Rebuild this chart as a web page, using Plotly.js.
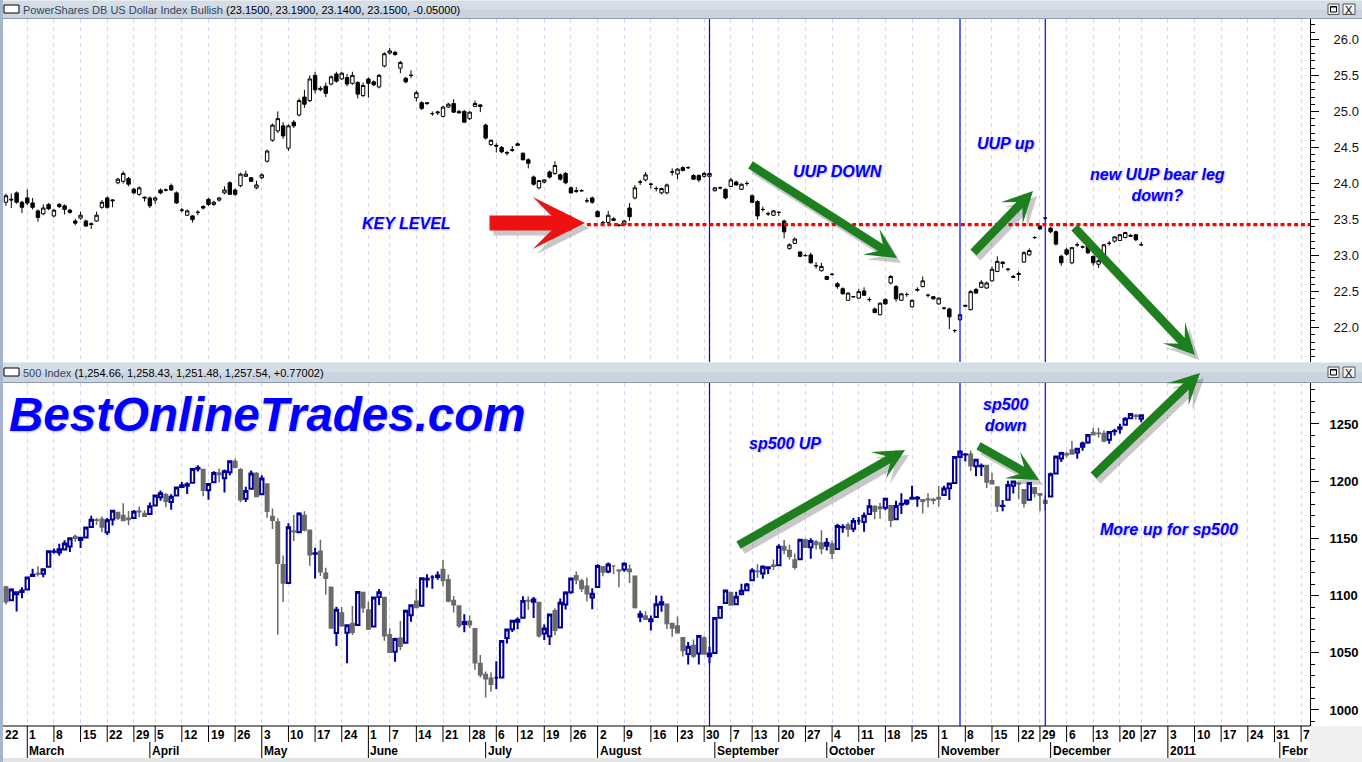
<!DOCTYPE html>
<html><head><meta charset="utf-8">
<script src="https://cdn.plot.ly/plotly-3.0.1.min.js"></script>
<style>html,body{margin:0;padding:0;background:#fff;overflow:hidden}#chart{width:1362px;height:762px}</style>
</head><body><div id="chart"></div>
<script>
// ---------- calendar ----------
const holidays2010 = ['2010-04-02','2010-05-31','2010-07-05','2010-09-06','2010-11-25','2010-12-24'];
const firstDay = '2010-02-22', lastDay = '2010-12-27';
function tradingDays(start, end, skip){
  const out=[]; let d=new Date(start+'T00:00:00Z'); const e=new Date(end+'T00:00:00Z');
  while(d<=e){const wd=d.getUTCDay(); const s=d.toISOString().slice(0,10);
    if(wd!==0&&wd!==6&&skip.indexOf(s)<0) out.push(s); d=new Date(d.getTime()+86400000);}
  return out;
}
const dates = tradingDays(firstDay, lastDay, holidays2010);

// ---------- UUP (top panel) ----------
const uupOpen = [
23.78,23.74,23.77,23.87,23.74, 23.80,23.73,23.62,23.58,23.71, 23.55,23.71,23.69,23.63,23.48, 23.52,23.48,23.43,23.48,23.67,
23.80,23.76,24.01,24.03,24.07, 23.92,23.85,23.81,23.80, 23.77,23.91,23.91,23.97,23.87, 23.63,23.56,23.55,23.60,23.68,
23.78,23.71,23.77,23.87,24.01, 23.91,23.97,24.10,24.08,23.94, 24.08,24.31,24.60,24.73,24.80, 24.49,24.85,24.95,25.20,25.15,
25.50,25.30,25.35,25.38,25.52, 25.45,25.47,25.39,25.40,25.22, 25.45,25.41,25.34,25.63, 25.81,25.82,25.60,25.46,25.50,
25.19,25.12,25.12,24.97,24.98, 24.93,25.06,25.11,25.00,25.00, 24.90,25.07,25.09,24.81,24.54, 24.53,24.50,24.42,24.47,
24.55,24.42,24.33,24.09,23.94, 24.02,24.16,24.14,24.12,24.14, 23.94,23.89,23.90,23.76,23.80, 23.61,23.46,23.46,23.51,23.42,
23.43,23.66,23.80,24.02,24.05, 23.99,23.93,23.87,23.87,24.16, 24.13,24.22,24.22,24.11,24.11, 24.10,24.10,23.90,23.94,23.92,
23.96,24.02,23.92,24.00, 23.83,23.75,23.64,23.58,23.56, 23.60,23.48,23.10,23.17,23.05, 23.00,23.01,22.86,22.79,22.71,
22.74,22.61,22.54,22.38,22.43, 22.41,22.51,22.39,22.26,22.18, 22.39,22.62,22.57,22.38,22.46, 22.29,22.52,22.57,22.45,22.43,
22.33,22.27,22.26,21.96,22.11, 22.31,22.25,22.53,22.56,22.55, 22.65,22.78,22.91,22.81,22.71, 22.75,22.91,23.01,23.25,
23.41,23.52,23.38,23.33,22.99, 23.08,22.90,23.15,23.12,23.13, 22.99,22.88,22.97,23.17,23.20, 23.21,23.25,23.28,23.29, 23.15];
const uupHigh = [
23.84,23.86,23.86,23.89,23.76, 23.92,23.80,23.64,23.71,23.73, 23.65,23.73,23.71,23.65,23.51, 23.61,23.50,23.46,23.61,23.77,
23.82,23.78,24.08,24.17,24.09, 23.94,23.96,23.82,23.82, 23.82,23.93,23.93,24.00,23.89, 23.66,23.64,23.56,23.63,23.70,
23.80,23.76,23.81,23.96,24.03, 23.93,24.15,24.18,24.09,24.04, 24.14,24.47,24.83,25.00,24.85, 24.82,24.88,25.18,25.30,25.50,
25.55,25.35,25.40,25.50,25.55, 25.55,25.52,25.55,25.42,25.40, 25.47,25.43,25.52,25.82, 25.88,25.84,25.70,25.48,25.57,
25.29,25.14,25.13,25.00,25.01, 25.08,25.12,25.17,25.02,25.02, 25.00,25.15,25.10,24.83,24.61, 24.56,24.52,24.45,24.52,
24.57,24.43,24.35,24.11,24.05, 24.06,24.18,24.31,24.14,24.16, 23.96,23.95,23.92,23.80,23.82, 23.63,23.48,23.62,23.53,23.44,
23.49,23.73,23.98,24.05,24.16, 24.01,23.96,23.94,24.00,24.21, 24.21,24.24,24.24,24.13,24.13, 24.16,24.15,23.95,23.96,23.93,
24.08,24.04,24.00,24.03, 23.85,23.77,23.68,23.61,23.63, 23.61,23.50,23.17,23.25,23.06, 23.02,23.04,22.91,22.90,22.72,
22.76,22.63,22.56,22.49,22.44, 22.54,22.56,22.42,22.28,22.35, 22.41,22.73,22.59,22.48,22.49, 22.39,22.56,22.71,22.47,22.44,
22.42,22.29,22.28,21.98,22.19, 22.32,22.52,22.55,22.66,22.64, 22.85,22.99,22.92,22.83,22.73, 22.78,23.06,23.10,23.27,
23.42,23.54,23.40,23.35,23.01, 23.11,23.12,23.18,23.14,23.15, 23.00,22.95,23.16,23.20,23.27, 23.30,23.33,23.30,23.30, 23.19];
const uupLow = [
23.72,23.69,23.66,23.72,23.59, 23.70,23.64,23.47,23.56,23.63, 23.53,23.66,23.57,23.58,23.42, 23.50,23.40,23.37,23.47,23.65,
23.65,23.67,23.99,24.00,23.96, 23.85,23.83,23.75,23.66, 23.72,23.85,23.89,23.90,23.72, 23.60,23.55,23.46,23.56,23.64,
23.69,23.69,23.75,23.85,23.84, 23.83,23.95,24.09,24.02,23.92, 24.06,24.29,24.58,24.70,24.62, 24.45,24.77,24.93,25.05,25.13,
25.25,25.28,25.20,25.36,25.40, 25.44,25.35,25.37,25.18,25.20, 25.19,25.35,25.32,25.61, 25.79,25.77,25.53,25.39,25.46,
25.14,25.02,25.09,24.94,24.95, 24.92,25.05,24.98,24.97,24.84, 24.88,25.06,24.99,24.61,24.52, 24.43,24.42,24.39,24.44,
24.52,24.32,24.21,23.97,23.92, 24.00,24.07,24.12,24.04,23.99, 23.86,23.87,23.89,23.73,23.72, 23.53,23.42,23.44,23.48,23.40,
23.42,23.48,23.78,23.98,24.03, 23.93,23.89,23.85,23.85,24.11, 24.06,24.17,24.20,24.05,24.02, 24.08,24.08,23.89,23.92,23.78,
23.95,23.97,23.91,23.97, 23.73,23.50,23.61,23.55,23.55, 23.55,23.24,23.08,23.16,22.98, 22.99,22.89,22.82,22.78,22.66,
22.72,22.54,22.46,22.37,22.42, 22.40,22.44,22.36,22.20,22.17, 22.32,22.60,22.36,22.37,22.43, 22.28,22.50,22.56,22.42,22.39,
22.32,22.25,21.98,21.93,22.10, 22.29,22.24,22.47,22.55,22.54, 22.64,22.77,22.83,22.78,22.69, 22.65,22.90,23.00,23.23,
23.36,23.48,23.31,23.14,22.86, 23.00,22.88,23.12,23.10,23.02, 22.86,22.83,22.96,23.14,23.18, 23.20,23.24,23.26,23.20, 23.14];
const uupClose = [
23.76,23.83,23.78,23.74,23.67, 23.73,23.67,23.53,23.66,23.65, 23.63,23.68,23.64,23.60,23.45, 23.56,23.41,23.44,23.56,23.74,
23.67,23.77,24.06,24.14,23.99, 23.87,23.94,23.80,23.69, 23.80,23.87,23.91,23.91,23.73, 23.63,23.62,23.50,23.60,23.66,
23.71,23.74,23.80,23.91,23.85, 23.85,24.13,24.13,24.03,23.98, 24.12,24.45,24.81,24.90,24.66, 24.80,24.80,25.15,25.10,25.45,
25.30,25.32,25.25,25.48,25.42, 25.53,25.38,25.50,25.24,25.36, 25.39,25.37,25.50,25.80, 25.84,25.79,25.68,25.41,25.50,
25.26,25.04,25.11,24.97,24.99, 25.06,25.10,24.99,24.98,24.85, 24.99,25.11,25.07,24.63,24.60, 24.52,24.44,24.43,24.46,
24.53,24.33,24.28,23.99,24.04, 24.05,24.09,24.25,24.06,24.01, 23.87,23.90,23.90,23.76,23.74, 23.54,23.46,23.56,23.49,23.42,
23.48,23.54,23.94,24.02,24.12, 23.99,23.93,23.93,23.98,24.16, 24.20,24.18,24.22,24.06,24.05, 24.14,24.14,23.94,23.94,23.80,
24.05,23.98,23.99,24.00, 23.74,23.55,23.64,23.58,23.62, 23.60,23.33,23.15,23.23,22.99, 23.00,22.90,22.86,22.85,22.67,
22.74,22.57,22.47,22.48,22.43, 22.50,22.45,22.39,22.21,22.34, 22.33,22.71,22.40,22.47,22.46, 22.38,22.53,22.65,22.45,22.40,
22.41,22.27,22.15,21.96,22.18, 22.30,22.50,22.48,22.63,22.62, 22.81,22.92,22.89,22.81,22.70, 22.74,23.04,23.07,23.25,
23.37,23.52,23.33,23.16,22.90, 23.02,23.11,23.15,23.12,23.04, 22.90,22.93,23.15,23.17,23.26, 23.29,23.32,23.27,23.22, 23.15];

// ---------- S&P 500 (bottom panel) ----------
const spxOpen = [
1110.0,1107.5,1095.9,1101.2,1103.1, 1105.4,1117.0,1119.4,1119.1,1125.1, 1138.4,1137.6,1140.2,1143.0,1151.7, 1148.5,1150.8,1159.9,1166.1,1166.7,
1155.4,1166.5,1172.7,1170.0,1167.6, 1167.7,1173.8,1171.8,1171.2, 1178.7,1186.0,1188.2,1181.8,1187.5, 1194.9,1195.9,1198.7,1210.8,1210.2,
1192.1,1199.0,1207.2,1202.5,1207.9, 1217.1,1209.9,1184.6,1193.3,1206.8, 1188.6,1197.5,1169.2,1164.4,1127.0, 1111.0,1156.4,1155.4,1170.0,1157.2,
1136.5,1138.8,1119.6,1107.3,1067.3, 1084.8,1067.4,1075.5,1074.3,1102.6, 1087.3,1073.0,1098.8,1098.4, 1065.8,1050.8,1062.8,1058.8,1082.7,
1095.0,1091.2,1114.0,1116.0,1116.2, 1122.8,1113.9,1095.6,1090.9,1075.1, 1077.5,1071.1,1040.6,1031.1,1027.7, 1028.1,1028.5,1062.9,1070.5,
1077.2,1080.7,1095.6,1094.5,1093.9, 1066.8,1064.5,1086.7,1072.1,1092.2, 1102.9,1117.4,1112.8,1108.1,1098.4, 1107.5,1125.3,1121.1,1125.8,1122.1,
1122.8,1122.9,1116.9,1081.5,1082.2, 1077.5,1081.2,1092.1,1092.4,1075.6, 1073.4,1063.2,1049.0,1056.3,1049.3, 1062.9,1046.9,1049.7,1080.7,1093.6,
1102.6,1092.4,1101.2,1104.6, 1113.4,1121.2,1119.4,1123.9,1126.4, 1126.6,1142.8,1139.5,1131.1,1131.7, 1148.6,1142.3,1146.8,1146.0,1143.5,
1145.0,1140.7,1159.8,1161.6,1158.4, 1165.3,1164.3,1171.3,1177.8,1177.5, 1176.8,1178.6,1166.7,1179.6,1180.5, 1184.7,1184.9,1183.8,1184.5,1183.9,
1185.7,1187.9,1193.8,1198.3,1221.2, 1223.2,1223.6,1213.1,1213.0,1213.6, 1200.4,1194.8,1178.3,1183.8,1196.1, 1198.1,1192.5,1183.7,1194.2,
1189.1,1183.0,1186.6,1206.8,1219.9, 1223.9,1227.3,1225.0,1230.1,1233.9, 1242.5,1241.8,1241.6,1236.3,1243.6, 1245.8,1249.4,1254.9,1257.5, 1254.66];
const spxHigh = [
1112.3,1108.6,1106.4,1103.5,1107.2, 1116.1,1123.5,1125.6,1123.7,1139.4, 1141.1,1145.4,1148.3,1150.2,1153.4, 1151.0,1160.3,1169.8,1167.8,1169.2,
1167.8,1174.7,1173.0,1180.7,1173.9, 1174.9,1177.8,1174.6,1181.4, 1187.7,1191.8,1189.6,1188.5,1194.7, 1199.2,1199.0,1210.7,1213.9,1210.2,
1197.9,1208.6,1211.0,1210.3,1217.3, 1219.8,1211.4,1195.1,1209.4,1208.0, 1205.1,1197.5,1176.0,1167.6,1135.1, 1163.2,1170.5,1172.9,1173.6,1157.2,
1141.9,1148.7,1124.3,1107.3,1090.2, 1090.0,1074.8,1090.8,1103.5,1102.6, 1094.8,1098.6,1105.7,1098.4, 1071.4,1063.2,1077.7,1087.9,1092.0,
1105.9,1115.6,1118.7,1117.7,1121.1, 1131.2,1118.5,1099.6,1090.9,1083.6, 1082.6,1071.1,1048.1,1033.6,1033.0, 1042.5,1060.9,1071.3,1078.2,
1080.8,1099.5,1099.1,1098.7,1093.9, 1074.7,1083.9,1089.0,1097.5,1103.7, 1115.2,1121.0,1114.7,1115.9,1106.4, 1127.3,1125.4,1128.8,1126.6,1123.1,
1129.2,1127.2,1116.9,1086.7,1086.3, 1082.6,1100.1,1099.8,1092.4,1075.6, 1081.6,1063.2,1059.4,1061.5,1065.2, 1064.4,1055.1,1081.3,1090.1,1105.1,
1102.6,1103.3,1110.3,1110.9, 1123.9,1127.4,1126.5,1125.4,1131.5, 1144.9,1148.6,1144.4,1136.8,1148.9, 1149.9,1150.0,1148.6,1157.2,1150.3,
1148.2,1162.8,1162.3,1163.9,1167.7, 1168.7,1172.6,1184.4,1178.9,1181.2, 1185.5,1178.6,1182.9,1189.4,1183.9, 1196.1,1187.1,1183.8,1189.5,1185.5,
1195.8,1195.9,1198.3,1221.3,1227.1, 1224.6,1226.8,1218.8,1215.5,1213.6, 1207.4,1194.8,1183.6,1200.3,1200.0, 1198.9,1192.5,1198.6,1194.2,
1189.1,1187.4,1207.6,1221.9,1225.6, 1225.8,1235.1,1228.9,1234.7,1240.4, 1246.7,1246.6,1244.3,1243.8,1245.8, 1250.2,1255.8,1259.4,1258.6, 1258.43];
const spxLow = [
1105.4,1092.2,1095.5,1086.0,1097.6, 1105.4,1116.5,1116.6,1116.1,1125.1, 1136.8,1134.9,1140.1,1138.0,1147.0, 1141.5,1150.4,1159.9,1161.9,1155.3,
1152.9,1161.2,1166.0,1165.1,1161.5, 1167.7,1168.5,1168.7,1170.7, 1178.7,1182.8,1177.2,1175.1,1187.2, 1194.7,1188.8,1198.7,1208.5,1186.8,
1183.7,1199.0,1198.9,1190.2,1205.1, 1211.1,1181.6,1181.8,1193.3,1186.3, 1188.6,1168.1,1158.2,1065.8,1094.2, 1111.0,1147.7,1155.4,1156.1,1126.1,
1115.0,1117.2,1100.7,1071.6,1055.9, 1072.7,1040.8,1065.6,1074.3,1084.8, 1069.9,1072.9,1091.8,1060.5, 1049.9,1042.2,1052.3,1058.8,1077.1,
1089.0,1091.2,1107.1,1105.9,1113.9, 1108.2,1094.2,1085.3,1071.6,1067.9, 1071.5,1035.2,1028.3,1010.9,1015.9, 1018.4,1028.5,1058.2,1068.1,
1070.5,1080.7,1087.7,1080.5,1063.3, 1061.1,1056.9,1065.3,1072.1,1087.9, 1101.6,1109.8,1103.1,1094.9,1088.0, 1107.5,1116.8,1119.5,1118.9,1107.2,
1120.9,1111.0,1088.6,1076.7,1079.0, 1069.5,1081.2,1085.8,1070.7,1063.9, 1067.1,1046.7,1039.8,1045.4,1039.7, 1048.8,1040.9,1049.7,1080.4,1093.6,
1091.2,1092.4,1101.2,1103.9, 1113.4,1115.6,1114.6,1118.9,1122.4, 1126.6,1136.2,1131.6,1122.8,1131.7, 1142.0,1132.1,1140.3,1136.1,1139.4,
1131.9,1140.7,1154.9,1151.4,1155.6, 1162.0,1155.7,1171.3,1166.7,1167.1, 1174.6,1159.7,1166.7,1171.2,1179.0, 1184.7,1177.7,1171.7,1177.1,1179.8,
1177.7,1187.9,1183.6,1198.3,1220.3, 1217.2,1208.9,1204.3,1204.5,1194.1, 1197.2,1173.0,1173.8,1183.8,1189.3, 1184.3,1176.9,1183.7,1186.0,
1173.6,1174.1,1186.6,1206.8,1216.8, 1220.7,1223.3,1219.5,1226.6,1232.6, 1240.3,1238.2,1234.0,1232.8,1239.9, 1241.5,1249.4,1254.9,1254.0, 1251.48];
const spxClose = [
1108.0,1094.6,1105.2,1102.9,1104.5, 1115.7,1118.3,1118.8,1123.0,1138.7, 1138.5,1140.5,1145.6,1150.2,1150.0, 1150.5,1159.5,1166.2,1165.8,1159.9,
1165.8,1174.2,1167.7,1165.7,1166.6, 1173.2,1173.3,1169.4,1178.1, 1187.4,1189.4,1182.5,1186.4,1194.4, 1196.5,1197.3,1210.7,1211.7,1192.1,
1197.5,1207.2,1205.9,1208.7,1217.3, 1212.1,1183.7,1191.4,1206.8,1186.7, 1202.3,1173.6,1165.9,1128.2,1110.9, 1159.7,1155.8,1171.7,1157.4,1135.7,
1136.9,1120.8,1115.1,1071.6,1087.7, 1073.7,1074.0,1068.0,1103.1,1089.4, 1070.7,1098.4,1102.8,1064.9, 1050.5,1062.0,1055.7,1086.8,1091.6,
1089.6,1115.2,1114.6,1116.0,1117.5, 1113.2,1095.3,1092.0,1073.7,1076.8, 1074.6,1041.2,1030.7,1027.4,1022.6, 1028.1,1060.3,1070.3,1078.0,
1078.8,1095.3,1095.2,1096.5,1064.9, 1071.3,1083.5,1069.6,1093.7,1102.7, 1115.0,1113.8,1106.1,1101.5,1101.6, 1125.9,1120.5,1127.2,1125.8,1121.6,
1127.8,1121.1,1089.5,1083.6,1079.3, 1079.4,1092.5,1094.2,1075.6,1071.7, 1067.4,1051.9,1055.3,1047.2,1064.6, 1048.9,1049.3,1080.3,1090.1,1104.5,
1091.8,1098.9,1104.2,1109.6, 1121.9,1121.1,1125.1,1124.7,1125.6, 1142.7,1139.8,1134.3,1124.8,1148.7, 1142.2,1147.7,1144.7,1141.2,1146.2,
1137.0,1160.8,1160.0,1158.1,1165.2, 1165.3,1169.8,1178.1,1173.8,1176.2, 1184.7,1165.9,1178.2,1180.3,1183.1, 1185.6,1185.6,1182.5,1183.8,1183.3,
1184.4,1193.6,1198.0,1221.1,1225.9, 1223.3,1213.4,1218.7,1213.5,1199.2, 1197.8,1178.3,1178.6,1196.7,1199.7, 1197.8,1180.7,1198.4,1189.4,
1187.8,1180.6,1206.1,1221.5,1224.7, 1223.1,1223.8,1228.3,1233.0,1240.4, 1240.5,1241.6,1235.2,1242.9,1243.9, 1247.1,1254.6,1258.8,1256.8, 1257.54];

// ---------- axis labels ----------
const weekTicks = ['2010-02-22','2010-03-01','2010-03-08','2010-03-15','2010-03-22','2010-03-29','2010-04-05','2010-04-12','2010-04-19','2010-04-26',
 '2010-05-03','2010-05-10','2010-05-17','2010-05-24','2010-06-01','2010-06-07','2010-06-14','2010-06-21','2010-06-28','2010-07-06','2010-07-12',
 '2010-07-19','2010-07-26','2010-08-02','2010-08-09','2010-08-16','2010-08-23','2010-08-30','2010-09-07','2010-09-13','2010-09-20','2010-09-27',
 '2010-10-04','2010-10-11','2010-10-18','2010-10-25','2010-11-01','2010-11-08','2010-11-15','2010-11-22','2010-11-29','2010-12-06','2010-12-13',
 '2010-12-20','2010-12-27','2011-01-03','2011-01-10','2011-01-17','2011-01-24','2011-01-31','2011-02-07'];
const monthTicks = ['2010-03-01','2010-04-01','2010-05-03','2010-06-01','2010-07-01','2010-08-02','2010-09-01','2010-10-01','2010-11-01','2010-12-01','2011-01-03','2011-02-01'];
const monthLabels = ['March','April','May','June','July','August','September','October','November','December','2011','Febr'];
const markerDays = ['2010-08-31','2010-11-05','2010-11-30'];
const keyLevel = 23.43;

// ---------- geometry helpers (pixel -> paper) ----------
const ML=3, MR=52, MB=36, PLOTW=1362-ML-MR, PAPERH=762-MB;
const PX = p => (p-ML)/PLOTW;
const PY = p => (PAPERH-p)/PAPERH;
const xStart = '2010-02-22 10:40', xEnd = '2011-02-08 16:00';

const shapes = [];
const annotations = [];
function rect(x0,y0,x1,y1,fill,line){shapes.push({type:'rect',xref:'paper',yref:'paper',x0:PX(x0),x1:PX(x1),y0:PY(y1),y1:PY(y0),fillcolor:fill,line:line||{width:0},layer:'above'});}
function hline(x0,x1,y,color){shapes.push({type:'line',xref:'paper',yref:'paper',x0:PX(x0),x1:PX(x1),y0:PY(y),y1:PY(y),line:{color:color,width:1},layer:'above'});}

// blue marker lines (drawn first so the header bars cover them)
markerDays.forEach(d => {
  shapes.push({type:'line',xref:'x2',yref:'y2 domain',x0:d,x1:d,y0:0,y1:1,line:{color:'#0000ff',width:1.2},layer:'above'});
  shapes.push({type:'line',xref:'x',yref:'y domain',x0:d,x1:d,y0:0,y1:1,line:{color:'#0000ff',width:1.2},layer:'above'});
});
// red dotted key level
shapes.push({type:'line',xref:'x2',yref:'y2',x0:'2010-07-29',x1:xEnd,y0:keyLevel,y1:keyLevel,line:{color:'#ff0000',width:3.4,dash:'4px,2.8px'},layer:'above'});

// header bars
function header(top, bottom, txt){
  rect(0, top, 1362, bottom, '#cbd4de');
  rect(0, top, 1362, top+(bottom-top)/2, '#d5dde6');
  hline(0,1362,bottom-0.5,'#8c9bb0');
  hline(0,1362,top+0.5,'#e8edf2');
  const mid=(top+bottom)/2;
  rect(4, mid-4.5, 19, mid+3.5, '#ffffff', {color:'#000',width:1});
  annotations.push({xref:'paper',yref:'paper',x:PX(21),y:PY(mid),xanchor:'left',yanchor:'middle',showarrow:false,text:txt,
    font:{family:'Liberation Sans',size:11,color:'#000'}});
  rect(1328, mid-5.5, 1339, mid+5, '#f3f3f3', {color:'#555',width:1});
  rect(1330.5, mid-3, 1336.5, mid+2.5, 'rgba(0,0,0,0)', {color:'#000',width:1});
  hline(1330.5,1336.5,mid-2.5,'#000');
  rect(1343, mid-5.5, 1355, mid+5, '#f3f3f3', {color:'#555',width:1});
  annotations.push({xref:'paper',yref:'paper',x:PX(1349),y:PY(mid),xanchor:'center',yanchor:'middle',showarrow:false,text:'X',
    font:{family:'Liberation Sans',size:11,color:'#000'}});
}
header(0, 19, '<span style="color:#34465c">PowerShares DB US Dollar Index Bullish</span> (23.1500, 23.1900, 23.1400, 23.1500, -0.05000)');
header(362, 383, '<span style="color:#34465c">500 Index</span> (1,254.66, 1,258.43, 1,251.48, 1,257.54, +0.77002)');

// left window frame & bottom area
rect(0, 0, 3, 762, '#a7b6ca');
rect(1310, 726, 1362, 762, '#f0f0f0');
rect(3, 758, 1310, 762, '#e4e4e4');
hline(3, 1310, 726, '#000');

// x-axis separators and labels
weekTicks.forEach(d => {
  shapes.push({type:'line',xref:'x',yref:'paper',x0:d,x1:d,y0:PY(742),y1:PY(726),line:{color:'#000',width:1},layer:'above'});
  const ax = (d < xStart) ? xStart : d;
  annotations.push({xref:'x',yref:'paper',x:ax,y:PY(734.5),xanchor:'left',yanchor:'middle',showarrow:false,
    text:String(parseInt(d.slice(8),10)),font:{family:'Liberation Sans',size:12,color:'#000',weight:'bold'}});
});
monthTicks.forEach((d,k) => {
  shapes.push({type:'line',xref:'x',yref:'paper',x0:d,x1:d,y0:PY(758),y1:PY(742),line:{color:'#000',width:1},layer:'above'});
  annotations.push({xref:'x',yref:'paper',x:d,y:PY(750.5),xanchor:'left',yanchor:'middle',showarrow:false,
    text:monthLabels[k],font:{family:'Liberation Sans',size:12,color:'#000',weight:'bold'}});
});

// arrows (head pixel, tail pixel)
function arrow(hx,hy,tx,ty,color,w,size){
  annotations.push({xref:'paper',yref:'paper',x:PX(hx+4),y:PY(hy+5),ax:tx-hx,ay:ty-hy,text:'',showarrow:true,arrowhead:3,arrowsize:size,arrowwidth:w,arrowcolor:'rgba(60,60,60,0.28)',standoff:0});
  annotations.push({xref:'paper',yref:'paper',x:PX(hx),y:PY(hy),ax:tx-hx,ay:ty-hy,text:'',showarrow:true,arrowhead:3,arrowsize:size,arrowwidth:w,arrowcolor:color,standoff:0});
}
const GREEN='#1d7f1d';
arrow(897,258,749,164,GREEN,8.5,0.6);
arrow(1033,191,972,254,GREEN,8.5,0.6);
arrow(1195,355,1073,226,GREEN,8.5,0.6);
arrow(905,450,737,546,GREEN,8.5,0.6);
arrow(1039,480,977,445,GREEN,8.5,0.6);
arrow(1200,373,1092,477,GREEN,8.5,0.6);
arrow(585,223,488,223,'#ee1111',15,0.58);

// blue comment texts
function note(cx,cy,txt,size){
  annotations.push({xref:'paper',yref:'paper',x:PX(cx),y:PY(cy),xanchor:'center',yanchor:'middle',showarrow:false,text:txt,align:'center',
    font:{family:'Liberation Sans',size:size||16,color:'#0000ff',weight:'bold',style:'italic',shadow:'1px 1px 2px rgba(90,40,140,0.35)'}});
}
note(406,223,'KEY LEVEL');
note(837,171,'UUP DOWN');
note(1005,143,'UUP up');
note(1157,185,'new UUP bear leg<br>down?');
note(785,443,'sp500 UP');
note(1005,415,'sp500<br>down');
note(1169,529,'More up for sp500');
annotations.push({xref:'paper',yref:'paper',x:PX(7),y:PY(414),xanchor:'left',yanchor:'middle',showarrow:false,text:'BestOnlineTrades.com',
  font:{family:'Liberation Sans',size:47.5,color:'#0000ff',weight:'bold',style:'italic',shadow:'1px 1px 2px rgba(90,40,140,0.35)'}});

// ---------- traces ----------
const traces = [
 {type:'candlestick',x:dates,open:uupOpen,high:uupHigh,low:uupLow,close:uupClose,xaxis:'x2',yaxis:'y2',whiskerwidth:0,
  increasing:{line:{color:'#000000',width:1},fillcolor:'#ffffff'},decreasing:{line:{color:'#000000',width:1},fillcolor:'#000000'},
  hoverinfo:'skip',showlegend:false},
 {type:'candlestick',x:dates,open:spxOpen,high:spxHigh,low:spxLow,close:spxClose,xaxis:'x',yaxis:'y',whiskerwidth:0,
  increasing:{line:{color:'#000099',width:2},fillcolor:'#ffffff'},decreasing:{line:{color:'#6a6a6a',width:1.5},fillcolor:'#6a6a6a'},
  hoverinfo:'skip',showlegend:false}
];

const xCommon = {type:'date',range:[xStart,xEnd],rangebreaks:[{bounds:['sat','mon']},{values:holidays2010}],rangeslider:{visible:false},
  tickvals:weekTicks,showticklabels:false,ticks:'',showgrid:true,gridcolor:'#d4d4f4',griddash:'4px,4px',gridwidth:1,
  showline:false,zeroline:false,fixedrange:true};
const layout = {
  width:1362,height:762,margin:{l:ML,r:MR,t:0,b:MB},paper_bgcolor:'#ffffff',plot_bgcolor:'#ffffff',showlegend:false,
  hovermode:false,dragmode:false,boxgap:0.2,boxgroupgap:0.2,
  xaxis:Object.assign({},xCommon,{domain:[0,1],anchor:'y'}),
  xaxis2:Object.assign({},xCommon,{domain:[0,1],anchor:'y2'}),
  yaxis:{domain:[0,(PAPERH-383)/PAPERH],side:'right',anchor:'x',range:[986.0,1285.8],tick0:1000,dtick:50,tickformat:'d',
    ticks:'outside',ticklen:8,tickcolor:'#000',showline:true,linecolor:'#000',linewidth:1,showgrid:false,zeroline:false,
    ticklabelstandoff:8,minor:{dtick:10,tick0:1000,ticks:'outside',ticklen:4,tickcolor:'#000',showgrid:false},
    tickfont:{family:'Liberation Sans',size:13,color:'#000',weight:'bold'},fixedrange:true},
  yaxis2:{domain:[(PAPERH-362)/PAPERH,(PAPERH-19)/PAPERH],side:'right',anchor:'x2',range:[21.524,26.282],tick0:0,dtick:0.5,tickformat:'.1f',
    ticks:'outside',ticklen:8,tickcolor:'#000',showline:true,linecolor:'#000',linewidth:1,showgrid:false,zeroline:false,
    ticklabelstandoff:12,minor:{dtick:0.1,ticks:'outside',ticklen:4,tickcolor:'#000',showgrid:false},
    tickfont:{family:'Liberation Sans',size:13,color:'#111'},fixedrange:true},
  shapes:shapes,annotations:annotations
};
Plotly.newPlot('chart',traces,layout,{staticPlot:true,displayModeBar:false});
</script></body></html>
